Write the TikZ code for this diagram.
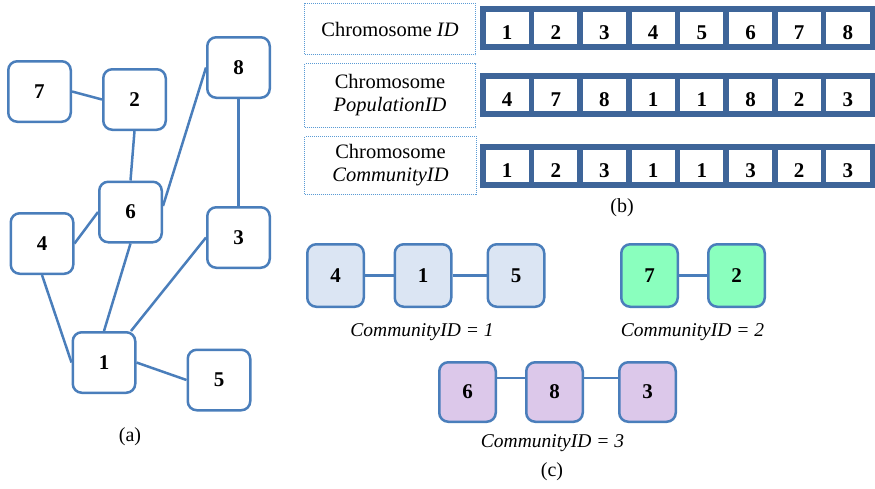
\documentclass[tikz,border=0pt]{standalone}
\usepackage{fontspec}
\setmainfont{Liberation Serif}
\definecolor{nodeblue}{RGB}{74,126,187}
\definecolor{arrblue}{RGB}{62,101,153}
\definecolor{dotblue}{RGB}{91,155,213}
\definecolor{commA}{RGB}{219,229,243}
\definecolor{commB}{RGB}{138,255,190}
\definecolor{commC}{RGB}{220,200,234}
\begin{document}
\begin{tikzpicture}[x=1pt,y=-1pt,
  gnode/.style={draw=nodeblue, line width=2.5pt, rounded corners=9pt, fill=white,
    minimum width=62.5pt, minimum height=60.5pt, inner sep=0pt,
    font=\fontsize{21}{25}\selectfont\bfseries},
  cnode/.style={gnode, minimum width=56.5pt, minimum height=62.5pt},
  link/.style={draw=nodeblue, line width=2.5pt},
  cell/.style={draw=arrblue, line width=5.5pt, minimum width=48.69pt, minimum height=38pt,
    inner sep=0pt, text height=23pt, text depth=0pt,
    font=\fontsize{21}{25}\selectfont\bfseries},
  idbox/.style={draw=dotblue, densely dotted, line width=1pt, inner sep=0pt, align=center,
    font=\fontsize{20.5}{23}\selectfont},
  caption/.style={font=\fontsize{20}{24}\selectfont},
  commlabel/.style={font=\fontsize{19.5}{23}\selectfont\itshape}]
\useasboundingbox (0,0) rectangle (875,488);

% (a) the network
\node[gnode] (n7) at (39.5,91.5) {7};
\node[gnode] (n2) at (134.5,99.5) {2};
\node[gnode] (n8) at (238.5,67.5) {8};
\node[gnode] (n6) at (130.5,212) {6};
\node[gnode] (n4) at (42,243.5) {4};
\node[gnode] (n3) at (238.5,237.5) {3};
\node[gnode] (n1) at (104,362.5) {1};
\node[gnode] (n5) at (219,380) {5};
\draw[link] (n7.east) -- (n2.west);
\draw[link] (n2.south) -- (n6.north);
\draw[link] (n8.west) -- ([yshift=6pt]n6.east);
\draw[link] (n8.south) -- (n3.north);
\draw[link] (n4.east) -- (n6.west);
\draw[link] (n4.south) -- (n1.west);
\draw[link] (n6.south) -- (n1.north);
\draw[link] (n3.west) -- ([xshift=27pt]n1.north);
\draw[link] (n1.east) -- (n5.west);
\node[caption] (capa) at (130,437) {(a)};

% (b) chromosome encodings
\node[idbox, minimum width=171pt, minimum height=51pt] (lid) at (390,29) {Chromosome \textit{ID}};
\node[idbox, minimum width=171pt, minimum height=64pt] (lpop) at (390,95.5) {Chromosome\\\textit{PopulationID}};
\node[idbox, minimum width=172pt, minimum height=58pt] (lcom) at (390.5,165.5) {Chromosome\\\textit{CommunityID}};
\foreach \v [count=\i] in {1,2,3,4,5,6,7,8}
  \node[cell] (id\i) at ({482.75+(\i-0.5)*48.69},28) {\v};
\foreach \v [count=\i] in {4,7,8,1,1,8,2,3}
  \node[cell] (pop\i) at ({482.75+(\i-0.5)*48.69},95) {\v};
\foreach \v [count=\i] in {1,2,3,1,1,3,2,3}
  \node[cell] (com\i) at ({482.75+(\i-0.5)*48.69},166) {\v};
\node[caption] (capb) at (622,208) {(b)};

% (c) detected communities
\node[cnode, fill=commA] (c4) at (335.5,275.5) {4};
\node[cnode, fill=commA] (c1) at (423,275.5) {1};
\node[cnode, fill=commA] (c5) at (516,275.5) {5};
\draw[link] (c4.east) -- (c1.west);
\draw[link] (c1.east) -- (c5.west);
\node[commlabel] (t1) at (422,332) {CommunityID = 1};

\node[cnode, fill=commB] (c7) at (649.5,275.5) {7};
\node[cnode, fill=commB] (c2) at (736.5,275.5) {2};
\draw[link] (c7.east) -- (c2.west);
\node[commlabel] (t2) at (692.5,332) {CommunityID = 2};

\node[cnode, fill=commC, minimum height=59.5pt] (c6) at (467.5,392) {6};
\node[cnode, fill=commC, minimum height=59.5pt] (c8) at (554.5,392) {8};
\node[cnode, fill=commC, minimum height=59.5pt] (c3) at (647.5,392) {3};
\draw[link] ([yshift=14pt]c6.east) -- ([yshift=14pt]c8.west);
\draw[link] ([yshift=14pt]c8.east) -- ([yshift=14pt]c3.west);
\node[commlabel] (t3) at (552.5,443) {CommunityID = 3};
\node[caption] (capc) at (552,472) {(c)};
\end{tikzpicture}
\end{document}
